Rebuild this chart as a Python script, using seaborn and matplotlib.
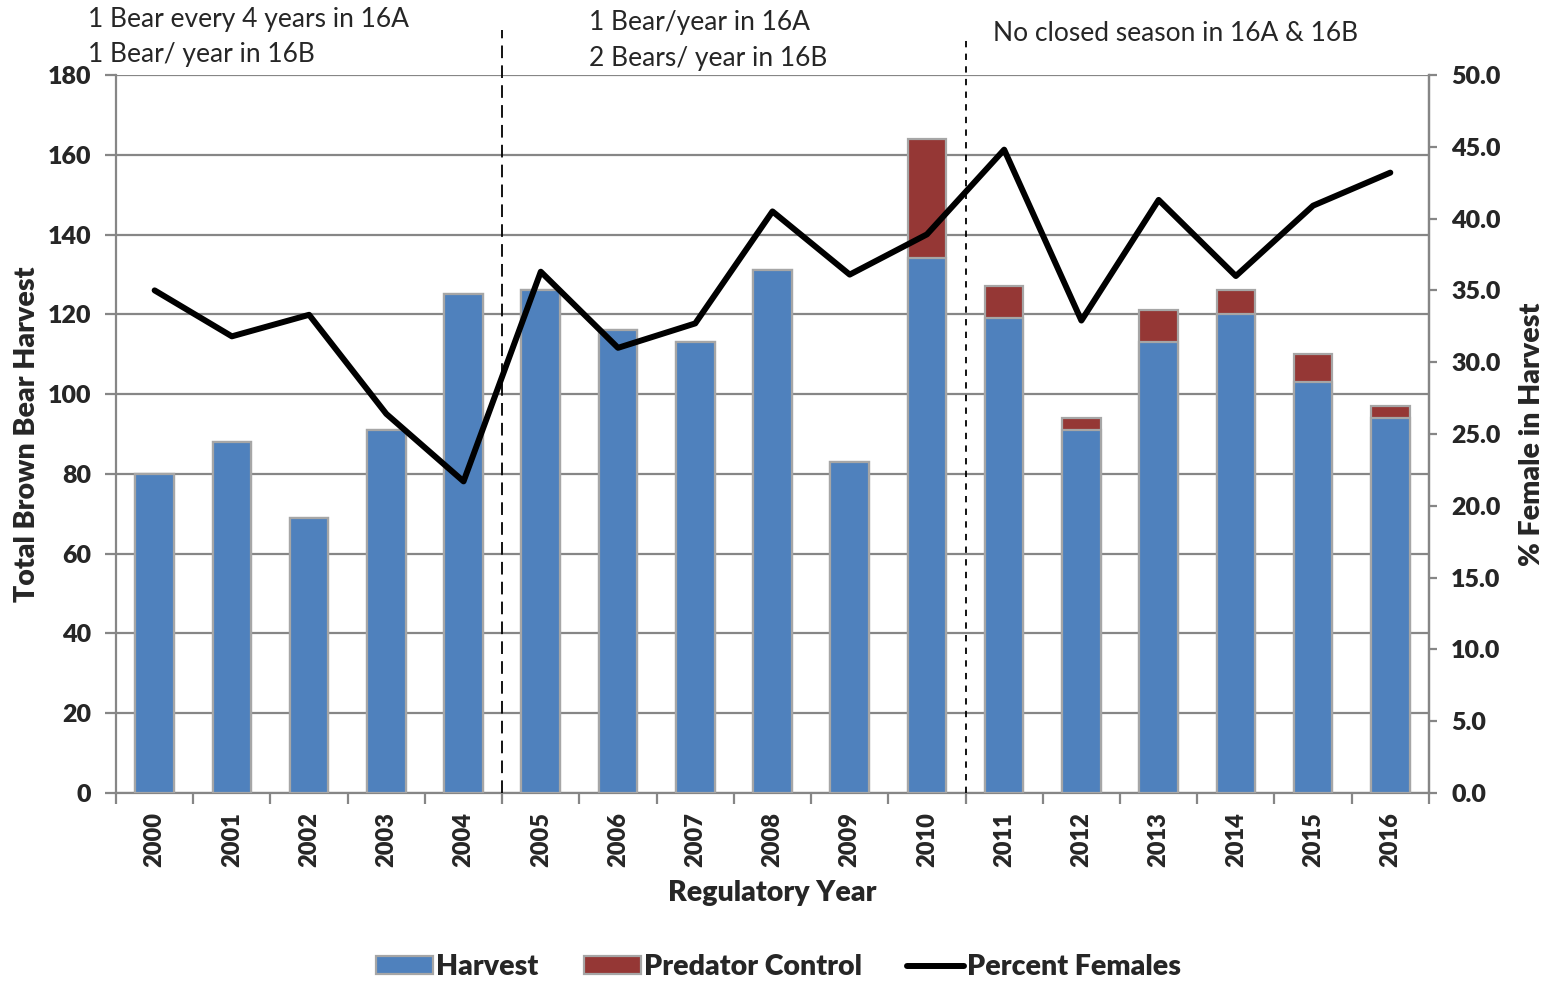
import numpy as np
import pandas as pd
import seaborn as sns
import matplotlib.pyplot as plt
from matplotlib.patches import Patch
from matplotlib.lines import Line2D

# data
years = [str(y) for y in range(2000, 2017)]
harvest = [80, 88, 69, 91, 125, 126, 116, 113, 131, 83, 134, 119, 91, 113, 120, 103, 94]
predator = [0, 0, 0, 0, 0, 0, 0, 0, 0, 0, 30, 8, 3, 8, 6, 7, 3]
pct_female = [35.0, 31.8, 33.3, 26.4, 21.7, 36.3, 31.0, 32.7, 40.5, 36.1,
              38.9, 44.8, 32.9, 41.3, 36.0, 40.9, 43.2]

df = pd.DataFrame({'year': years, 'harvest': harvest, 'predator': predator,
                   'pct': pct_female})
df['total'] = df['harvest'] + df['predator']
df['pos'] = np.arange(len(df))

blue = '#4F81BD'
red = '#953735'
edge = '#A6A6A6'
grid = '#868686'
heavy = 'heavy'

sns.set_style('white')
plt.rcParams['font.family'] = ['Lato', 'DejaVu Sans']

fig = plt.figure(figsize=(15.51, 9.84), dpi=100)
ax = fig.add_axes([0.0748, 0.1941, 0.8465, 0.7297])

# stacked bars: total (red) underneath, harvest (blue) on top
sns.barplot(data=df, x='year', y='total', color=red, width=0.5, saturation=1,
            edgecolor=edge, linewidth=1.6, ax=ax, zorder=2)
sns.barplot(data=df, x='year', y='harvest', color=blue, width=0.5, saturation=1,
            edgecolor=edge, linewidth=1.6, ax=ax, zorder=3)

ax.set_ylim(0, 180)
ax.set_xlim(-0.5, len(years) - 0.5)
ax.set_yticks(np.arange(0, 181, 20))
ax.yaxis.grid(True, color=grid, linewidth=1.6, zorder=0)
ax.set_axisbelow(True)
for s in ['left', 'bottom', 'right']:
    ax.spines[s].set_color(grid)
    ax.spines[s].set_linewidth(1.6)
ax.spines['top'].set_visible(False)

# x ticks: labels at bar centres, tick marks at the category boundaries
ax.set_xticks(np.arange(-0.5, len(years), 1), minor=True)
ax.tick_params(axis='x', which='major', length=0, pad=14, labelsize=17,
               labelrotation=90)
ax.tick_params(axis='x', which='minor', length=8, width=1.6, color=grid,
               direction='out', bottom=True)
ax.tick_params(axis='y', which='major', length=8, width=1.6, color=grid,
               direction='out', left=True, labelsize=18, pad=10)
for t in ax.get_xticklabels() + ax.get_yticklabels():
    t.set_fontweight(heavy)

ax.set_xlabel('Regulatory Year', fontsize=20.5, fontweight=heavy, labelpad=9)
ax.set_ylabel('Total Brown Bear Harvest', fontsize=20.5, fontweight=heavy, labelpad=5)

# percent females on the right axis
ax2 = ax.twinx()
sns.lineplot(data=df, x='pos', y='pct', color='black', linewidth=4.3,
             ax=ax2, zorder=5, solid_capstyle='round', solid_joinstyle='round')
ax2.set_ylim(0, 50)
ax2.set_yticks(np.arange(0, 50.1, 5))
ax2.set_yticklabels([f'{v:.1f}' for v in np.arange(0, 50.1, 5)])
ax2.tick_params(axis='y', length=6, width=1.6, color=grid, direction='out',
                right=True, labelsize=18, pad=10)
for t in ax2.get_yticklabels():
    t.set_fontweight(heavy)
ax2.set_ylabel('% Female in Harvest', fontsize=20.5, fontweight=heavy, labelpad=13)
ax2.set_xlabel('')
for s in ['top', 'left', 'bottom']:
    ax2.spines[s].set_visible(False)
ax2.spines['right'].set_color(grid)
ax2.spines['right'].set_linewidth(1.6)
ax2.set_xlim(-0.5, len(years) - 0.5)

# regulation change markers
ax.axvline(4.5, ymin=0, ymax=1.063, color='black', linestyle=(0, (7, 4)),
           linewidth=1.3, clip_on=False, zorder=6)
ax.axvline(10.5, ymin=0, ymax=1.05, color='black', linestyle=(0, (3.5, 3.5)),
           linewidth=1.3, clip_on=False, zorder=6)

fig.text(0.0567, 0.980, '1 Bear every 4 years in 16A', fontsize=19, va='center')
fig.text(0.0567, 0.945, '1 Bear/ year in 16B', fontsize=19, va='center')
fig.text(0.380, 0.977, '1 Bear/year in 16A', fontsize=19, va='center')
fig.text(0.380, 0.941, '2 Bears/ year in 16B', fontsize=19, va='center')
fig.text(0.640, 0.966, 'No closed season in 16A & 16B', fontsize=19, va='center')

handles = [Patch(facecolor=blue, edgecolor=edge, linewidth=1.6),
           Patch(facecolor=red, edgecolor=edge, linewidth=1.6),
           Line2D([0], [0], color='black', linewidth=4.3)]
leg = fig.legend(handles, ['Harvest', 'Predator Control', 'Percent Females'],
                 loc='center', bbox_to_anchor=(0.502, 0.017), ncol=3,
                 frameon=False, handlelength=2.0, handleheight=0.6,
                 handletextpad=0.1, columnspacing=1.6,
                 prop={'size': 20.5, 'weight': heavy})

fig.savefig('out.png', dpi=100)
